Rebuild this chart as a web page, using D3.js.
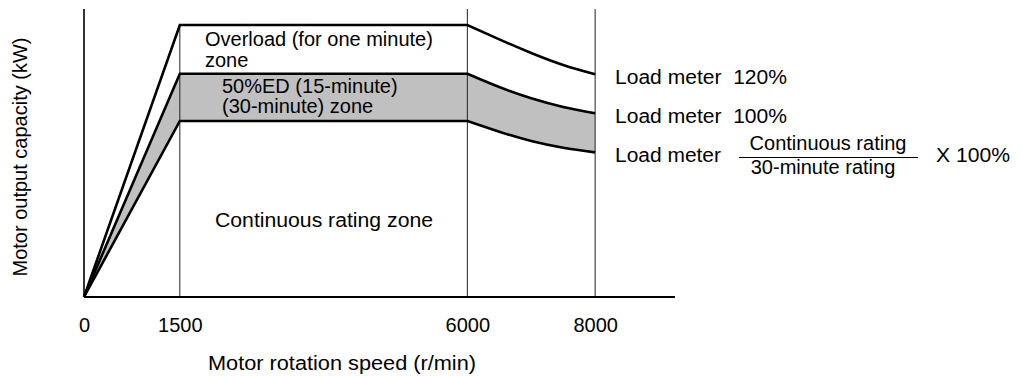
<!DOCTYPE html>
<html>
<head>
<meta charset="utf-8">
<script src="https://cdn.jsdelivr.net/npm/d3@7"></script>
<style>
  html, body { margin: 0; padding: 0; background: #fff; }
  svg { display: block; }
  text { font-family: "Liberation Sans", Arial, Helvetica, sans-serif; fill: #000; }
</style>
</head>
<body>
<svg id="chart" width="1022" height="376"></svg>
<script>
// ---- data ----
const speeds      = [0, 1500, 6000, 6500, 7000, 7500, 8000];      // r/min
const overload    = [0, 17.0, 17.0, 16.1, 15.25, 14.5, 13.92];    // 120% (one minute)
const halfHour    = [0, 13.95, 13.95, 13.12, 12.42, 11.88, 11.48]; // 30-minute rating (100%)
const continuous  = [0, 11.0, 11.0, 10.33, 9.75, 9.33, 9.04];     // continuous rating
const tickValues  = [0, 1500, 6000, 8000];
const guideSpeeds = [1500, 6000, 8000];
const xLabel = "Motor rotation speed (r/min)";
const yLabel = "Motor output capacity (kW)";

const svg = d3.select("#chart");
const x = d3.scaleLinear().domain([0, 9250]).range([84, 675]);
const y = d3.scaleLinear().domain([0, 18]).range([297, 9]);

const pts = s => speeds.map((v, i) => ({ s: v, v: s[i] }));
const linPart = a => a.filter(d => d.s <= 6000);
const curPart = a => a.filter(d => d.s >= 6000);

const lineLin = d3.line().x(d => x(d.s)).y(d => y(d.v)).curve(d3.curveLinear);
const lineCur = d3.line().x(d => x(d.s)).y(d => y(d.v)).curve(d3.curveNatural);

// shaded 50%ED / 30-minute zone
const band = speeds.map((s, i) => ({ s, lo: continuous[i], hi: halfHour[i] }));
const areaLin = d3.area().x(d => x(d.s)).y0(d => y(d.lo)).y1(d => y(d.hi)).curve(d3.curveLinear);
const areaCur = d3.area().x(d => x(d.s)).y0(d => y(d.lo)).y1(d => y(d.hi)).curve(d3.curveNatural);
svg.append("path").attr("d", areaLin(band.filter(d => d.s <= 6000))).attr("fill", "#c0c0c0");
svg.append("path").attr("d", areaCur(band.filter(d => d.s >= 6000))).attr("fill", "#c0c0c0");

// thin vertical guides
guideSpeeds.forEach(s => {
  const top = s === 1500 ? y(overload[1]) : y(18);
  svg.append("line").attr("x1", x(s)).attr("x2", x(s)).attr("y1", y(0)).attr("y2", top)
    .attr("stroke", "#222").attr("stroke-width", 1);
});

// axes lines
svg.append("line").attr("x1", x(0)).attr("x2", x(0)).attr("y1", y(0)).attr("y2", y(18))
  .attr("stroke", "#000").attr("stroke-width", 1.6);
svg.append("line").attr("x1", x(0)).attr("x2", x.range()[1]).attr("y1", y(0)).attr("y2", y(0))
  .attr("stroke", "#000").attr("stroke-width", 2);

// rating curves
[overload, halfHour, continuous].forEach(series => {
  const p = pts(series);
  const d = lineLin(linPart(p)) + lineCur(curPart(p)).replace(/^M/, "L");
  svg.append("path").attr("d", d).attr("fill", "none").attr("stroke", "#000")
    .attr("stroke-width", 2.6).attr("stroke-linejoin", "miter");
});

// x tick labels
const xAxis = d3.axisBottom(x).tickValues(tickValues).tickSize(0).tickPadding(21)
  .tickFormat(d3.format("d"));
const gx = svg.append("g").attr("transform", `translate(0,${y(0)})`).call(xAxis);
gx.select(".domain").remove();
gx.selectAll("text").style("font-family", '"Liberation Sans", Arial, sans-serif')
  .style("font-size", "20px").attr("fill", "#000");

// helper for text
const fs = 20;
function label(tx, ty, str, opts = {}) {
  const t = svg.append("text").attr("x", tx).attr("y", ty).attr("font-size", fs)
    .attr("xml:space", "preserve").text(str);
  if (opts.anchor) t.attr("text-anchor", opts.anchor);
  if (opts.len) t.attr("textLength", opts.len).attr("lengthAdjust", "spacingAndGlyphs");
  return t;
}

// axis titles
label(208, 370, xLabel, { len: 268 });
svg.append("text").attr("transform", "translate(27,157) rotate(-90)")
  .attr("text-anchor", "middle").attr("font-size", fs).text(yLabel);

// zone labels
label(205, 46, "Overload (for one minute)");
label(205, 66.5, "zone");
label(222, 92.5, "50%ED (15-minute)");
label(222, 113, "(30-minute) zone");
label(215, 227, "Continuous rating zone", { len: 218 });

// right-hand load meter labels
label(615, 83.5, "Load meter  120%", { len: 172 });
label(615, 123, "Load meter  100%", { len: 172 });
label(615, 162, "Load meter", { len: 106 });
label(828, 150, "Continuous rating", { anchor: "middle" });
svg.append("line").attr("x1", 739).attr("x2", 918).attr("y1", 157.5).attr("y2", 157.5)
  .attr("stroke", "#000").attr("stroke-width", 1.2);
label(823, 174, "30-minute rating", { anchor: "middle" });
label(936, 162, "X 100%", { len: 74 });
</script>
</body>
</html>
